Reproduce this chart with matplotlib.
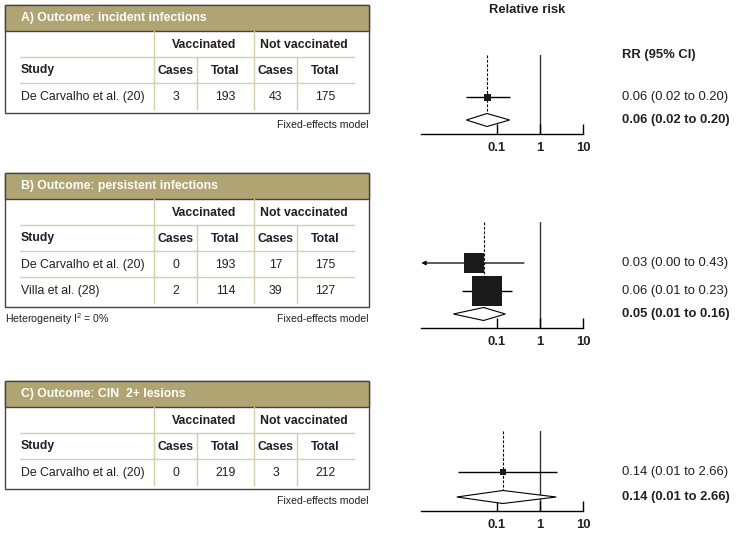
import matplotlib
matplotlib.use("Agg")
import matplotlib.pyplot as plt
from matplotlib.patches import Rectangle, Polygon
from matplotlib import font_manager

# ---------------- data ----------------
titles = ["A) Outcome: incident infections",
          "B) Outcome: persistent infections",
          "C) Outcome: CIN  2+ lesions"]
studies = [["De Carvalho et al. (20)"],
           ["De Carvalho et al. (20)", "Villa et al. (28)"],
           ["De Carvalho et al. (20)"]]
vacc_cases = [[3], [0, 2], [0]]
vacc_total = [[193], [193, 114], [219]]
nonvacc_cases = [[43], [17, 39], [3]]
nonvacc_total = [[175], [175, 127], [212]]
heterogeneity = [None, "Heterogeneity I$^{2}$ = 0%", None]
model_label = "Fixed-effects model"

rr = [[0.06], [0.03, 0.06], [0.14]]
rr_lo = [[0.02], [0.0, 0.016], [0.013]]
rr_hi = [[0.20], [0.43, 0.23], [2.5]]
pooled_rr = [0.06, 0.05, 0.14]
pooled_lo = [0.02, 0.01, 0.012]
pooled_hi = [0.20, 0.16, 2.4]
rr_text = [["0.06 (0.02 to 0.20)"],
           ["0.03 (0.00 to 0.43)", "0.06 (0.01 to 0.23)"],
           ["0.14 (0.01 to 2.66)"]]
pooled_text = ["0.06 (0.02 to 0.20)", "0.05 (0.01 to 0.16)", "0.14 (0.01 to 2.66)"]
weights = [[0.04], [0.32, 0.70], [0.03]]
xticks = [0.1, 1, 10]
xticklabels = ["0.1", "1", "10"]

# ---------------- style ----------------
avail = {f.name for f in font_manager.fontManager.ttflist}
fam = "Liberation Sans Narrow" if "Liberation Sans Narrow" in avail else "Liberation Sans"
plt.rcParams['font.family'] = [fam, 'DejaVu Sans']
plt.rcParams['mathtext.fontset'] = 'custom'
plt.rcParams['mathtext.rm'] = fam
plt.rcParams['mathtext.it'] = fam
FS = 9.4      # forest text
TFS = 8.8     # table text
SFS = 7.6     # footer text
TXT = '#231f20'
BAND = '#b0a572'
GRID = '#d6cfa6'
BORDER = '#444444'

W, H = 737, 541
fig = plt.figure(figsize=(W / 100, H / 100), dpi=100)
bg = fig.add_axes([0, 0, 1, 1])
bg.set_xlim(0, W)
bg.set_ylim(H, 0)
bg.axis('off')

panel_tops = [5, 173, 381]
rowh = 26
box_l, box_r = 5, 369
in_l, in_r = 20, 354
cols = [154, 197, 254, 297]
col_centers = [(cols[0] + cols[1]) / 2, (cols[1] + cols[2]) / 2,
               (cols[2] + cols[3]) / 2, (cols[3] + in_r) / 2]

# forest layout (pixel units)
f_left, f_right = 421, 583
xmin, xmax = 10 ** -2.75, 10
forest_top = [55, 222, 431]
forest_axis = [134, 328, 511]
forest_rows = [[97], [263, 291], [472]]
forest_pool = [120, 314, 497]
rr_x = 622

for p in range(3):
    top = panel_tops[p]
    band_b = top + rowh
    l1 = band_b + rowh
    l2 = l1 + rowh
    n = len(studies[p])
    last = l2 + n * rowh
    bottom = last + 4
    # box and band
    bg.add_patch(Rectangle((box_l, top), box_r - box_l, bottom - top,
                           facecolor='white', edgecolor=BORDER, lw=1.0, zorder=1))
    bg.add_patch(Rectangle((box_l, top), box_r - box_l, band_b - top,
                           facecolor=BAND, edgecolor=BORDER, lw=1.0, zorder=2))
    bg.text(21, (top + band_b) / 2 + 0.5, titles[p], color='white', fontsize=TFS,
            fontweight='bold', va='center', ha='left', zorder=3)
    # grid lines
    hl = [l1, l2] + [l2 + k * rowh for k in range(1, n)]
    for y in hl:
        bg.plot([in_l, in_r], [y, y], color=GRID, lw=1.0, zorder=2)
    bg.plot([cols[0], cols[0]], [band_b, last], color=GRID, lw=1.0, zorder=2)
    bg.plot([cols[2], cols[2]], [band_b, last], color=GRID, lw=1.0, zorder=2)
    bg.plot([cols[1], cols[1]], [l1, last], color=GRID, lw=1.0, zorder=2)
    bg.plot([cols[3], cols[3]], [l1, last], color=GRID, lw=1.0, zorder=2)
    # headers
    yh1 = (band_b + l1) / 2 + 0.5
    yh2 = (l1 + l2) / 2 + 0.5
    bg.text((cols[0] + cols[2]) / 2, yh1, "Vaccinated", fontsize=TFS, fontweight='bold',
            ha='center', va='center', color=TXT)
    bg.text((cols[2] + in_r) / 2, yh1, "Not vaccinated", fontsize=TFS, fontweight='bold',
            ha='center', va='center', color=TXT)
    bg.text(21, yh2, "Study", fontsize=TFS, fontweight='bold', ha='left', va='center', color=TXT)
    for cx, lab in zip(col_centers, ["Cases", "Total", "Cases", "Total"]):
        bg.text(cx, yh2, lab, fontsize=TFS, fontweight='bold', ha='center', va='center', color=TXT)
    for i in range(n):
        yr = l2 + (i + 0.5) * rowh + 1
        bg.text(21, yr, studies[p][i], fontsize=TFS, ha='left', va='center', color=TXT)
        vals = [vacc_cases[p][i], vacc_total[p][i], nonvacc_cases[p][i], nonvacc_total[p][i]]
        for cx, v in zip(col_centers, vals):
            bg.text(cx, yr, str(v), fontsize=TFS, ha='center', va='center', color=TXT)
    # footer
    fy = bottom + 12
    bg.text(box_r, fy, model_label, fontsize=SFS, ha='right', va='center', color=TXT)
    if heterogeneity[p]:
        bg.text(box_l, fy, heterogeneity[p], fontsize=SFS, ha='left', va='center', color=TXT)

    # forest axes
    ftop, faxis = forest_top[p], forest_axis[p]
    ax = fig.add_axes([f_left / W, (H - faxis) / H, (f_right - f_left) / W, (faxis - ftop) / H])
    ax.set_xscale('log')
    ax.set_xlim(xmin, xmax)
    ax.set_ylim(faxis, ftop)
    ax.patch.set_alpha(0)
    for s in ['top', 'left', 'right']:
        ax.spines[s].set_visible(False)
    ax.spines['bottom'].set_color('black')
    ax.spines['bottom'].set_linewidth(1.0)
    ax.set_yticks([])
    ax.set_xticks(xticks)
    ax.set_xticklabels(xticklabels, fontweight='bold', fontsize=FS, color=TXT)
    ax.xaxis.set_minor_locator(matplotlib.ticker.NullLocator())
    ax.tick_params(axis='x', direction='in', length=7, width=1.0, pad=6, color='black')

    ax.axvline(1, color='#333333', lw=1.0, zorder=1)
    dh = 6.5
    py = forest_pool[p]
    ax.vlines(pooled_rr[p], ftop, py - dh, colors='black', linestyles=(0, (2.5, 1.5)), lw=0.8, zorder=2)
    for i in range(n):
        y = forest_rows[p][i]
        lo, hi, r = rr_lo[p][i], rr_hi[p][i], rr[p][i]
        if lo <= xmin:
            ax.annotate('', xy=(xmin * 1.02, y), xytext=(hi, y),
                        arrowprops=dict(arrowstyle='-|>', lw=0.9, color='black',
                                        mutation_scale=6, shrinkA=0, shrinkB=0))
        else:
            ax.hlines(y, lo, hi, colors='black', lw=1.0, zorder=3)
        side_px = 35 * weights[p][i] ** 0.5
        ax.plot([r], [y], marker='s', color='#1a1a1a', markersize=side_px * 0.72,
                markeredgewidth=0, zorder=4)
        bg.text(rr_x, y, rr_text[p][i], fontsize=FS, ha='left', va='center', color=TXT)
    ax.add_patch(Polygon([(pooled_lo[p], py), (pooled_rr[p], py - dh),
                          (pooled_hi[p], py), (pooled_rr[p], py + dh)],
                         closed=True, facecolor='white', edgecolor='black', lw=0.8, zorder=3))
    bg.text(rr_x, py, pooled_text[p], fontsize=FS, fontweight='bold', ha='left', va='center', color=TXT)

bg.text(527, 10, "Relative risk", fontsize=FS, fontweight='bold', ha='center', va='center', color=TXT)
bg.text(rr_x, forest_top[0], "RR (95% CI)", fontsize=FS, fontweight='bold', ha='left', va='center', color=TXT)

fig.savefig("out.png", dpi=100)
